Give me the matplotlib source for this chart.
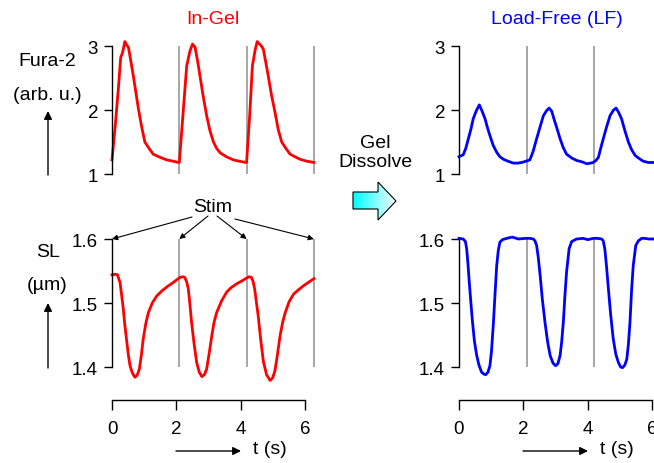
import matplotlib
matplotlib.use("Agg")
import matplotlib.pyplot as plt
import numpy as np
from matplotlib.patches import Polygon

plt.rcParams['font.family'] = ['Liberation Sans', 'DejaVu Sans']

# ---------------- data ----------------
# In-Gel Fura-2 (arb. u.)
gel_fura_t = [0.00, 0.10, 0.20, 0.27, 0.33, 0.40, 0.45, 0.51, 0.58, 0.66, 0.74, 0.82, 0.92, 1.02, 1.15,
              1.28, 1.45, 1.70, 1.90, 2.06, 2.09,
              2.20, 2.32, 2.42, 2.50, 2.58, 2.66, 2.73, 2.83, 2.94, 3.04, 3.15, 3.25, 3.36, 3.55, 3.77, 3.95, 4.16, 4.18,
              4.28, 4.36, 4.45, 4.51, 4.58, 4.64, 4.70, 4.77, 4.85, 4.95, 5.06, 5.16, 5.27, 5.40, 5.53, 5.68,
              5.84, 6.05, 6.27]
gel_fura_v = [1.22, 1.75, 2.35, 2.82, 2.90, 3.07, 3.02, 2.98, 2.78, 2.54, 2.28, 2.02, 1.74, 1.50, 1.40,
              1.31, 1.27, 1.22, 1.20, 1.18, 1.18,
              1.90, 2.69, 2.92, 3.03, 2.98, 2.76, 2.54, 2.22, 1.91, 1.68, 1.50, 1.40, 1.33, 1.27, 1.22, 1.20, 1.18, 1.18,
              1.95, 2.69, 2.95, 3.07, 3.03, 3.00, 2.95, 2.76, 2.54, 2.24, 1.97, 1.70, 1.50, 1.40, 1.31, 1.27,
              1.23, 1.20, 1.18]

# In-Gel sarcomere length (um)
gel_sl_t = [0.00, 0.10, 0.17, 0.25, 0.30, 0.35, 0.40, 0.46, 0.51, 0.56, 0.63, 0.71, 0.78, 0.85, 0.91, 0.97,
            1.05, 1.13, 1.25, 1.39, 1.55, 1.70, 1.90, 2.11,
            2.20, 2.26, 2.32, 2.37, 2.42, 2.47, 2.55, 2.63, 2.71, 2.79, 2.87, 2.94, 3.02, 3.10, 3.17, 3.25,
            3.40, 3.56, 3.70, 3.87, 4.05, 4.18,
            4.26, 4.33, 4.38, 4.43, 4.48, 4.54, 4.62, 4.70, 4.80, 4.91, 4.99, 5.06, 5.14, 5.22, 5.30, 5.38,
            5.50, 5.64, 5.80, 5.95, 6.12, 6.27]
gel_sl_v = [1.544, 1.545, 1.544, 1.532, 1.512, 1.491, 1.465, 1.439, 1.418, 1.402, 1.391, 1.384, 1.387, 1.397, 1.418, 1.444,
            1.468, 1.485, 1.500, 1.511, 1.519, 1.525, 1.532, 1.540,
            1.541, 1.540, 1.533, 1.522, 1.498, 1.470, 1.436, 1.407, 1.392, 1.385, 1.388, 1.397, 1.422, 1.449, 1.470, 1.485,
            1.503, 1.517, 1.524, 1.530, 1.535, 1.539,
            1.541, 1.540, 1.534, 1.522, 1.503, 1.480, 1.442, 1.409, 1.388, 1.379, 1.383, 1.394, 1.420, 1.449, 1.470, 1.485,
            1.502, 1.514, 1.521, 1.527, 1.533, 1.538]

# Load-Free Fura-2 (arb. u.)
lf_fura_t = [0.00, 0.13, 0.21, 0.29, 0.37, 0.44, 0.53, 0.63, 0.72, 0.81, 0.88, 0.96, 1.06, 1.17, 1.27, 1.38,
             1.52, 1.69, 1.82, 1.95, 2.08, 2.20,
             2.30, 2.41, 2.52, 2.62, 2.72, 2.80, 2.88, 2.95, 3.05, 3.14, 3.24, 3.34, 3.50, 3.66, 3.82, 3.97, 4.08, 4.17,
             4.25, 4.33, 4.40, 4.48, 4.58, 4.69, 4.80, 4.88, 4.96, 5.05, 5.15, 5.26, 5.36, 5.47, 5.60, 5.72, 5.88, 6.05]
lf_fura_v = [1.27, 1.30, 1.40, 1.55, 1.70, 1.86, 1.98, 2.08, 1.98, 1.86, 1.73, 1.60, 1.45, 1.34, 1.27, 1.23,
             1.20, 1.17, 1.17, 1.18, 1.20, 1.22,
             1.35, 1.55, 1.74, 1.91, 1.99, 2.03, 1.98, 1.86, 1.70, 1.55, 1.41, 1.31, 1.25, 1.21, 1.19, 1.16, 1.17, 1.18,
             1.21, 1.26, 1.40, 1.55, 1.73, 1.91, 2.00, 2.03, 1.96, 1.86, 1.68, 1.50, 1.38, 1.29, 1.24, 1.20, 1.18, 1.18]

# Load-Free sarcomere length (um)
lf_sl_t = [0.00, 0.13, 0.20, 0.24, 0.28, 0.32, 0.37, 0.42, 0.48, 0.55, 0.62, 0.70, 0.77, 0.83, 0.90, 0.96, 1.01,
           1.07, 1.12, 1.17, 1.22, 1.27, 1.35, 1.48, 1.65, 1.85, 2.05, 2.20, 2.31,
           2.36, 2.41, 2.46, 2.52, 2.59, 2.67, 2.75, 2.83, 2.92, 3.00, 3.07, 3.14, 3.19, 3.24, 3.29, 3.34, 3.42, 3.50,
           3.65, 3.86, 4.00, 4.17, 4.30, 4.43,
           4.48, 4.53, 4.58, 4.64, 4.71, 4.79, 4.87, 4.95, 5.02, 5.08, 5.15, 5.21, 5.26, 5.31, 5.36, 5.41, 5.49, 5.57,
           5.67, 5.77, 5.90, 6.05]
lf_sl_v = [1.601, 1.600, 1.596, 1.584, 1.560, 1.532, 1.500, 1.470, 1.440, 1.418, 1.403, 1.392, 1.389, 1.388, 1.392, 1.402, 1.425,
           1.470, 1.515, 1.558, 1.582, 1.595, 1.599, 1.601, 1.603, 1.600, 1.601, 1.601, 1.600,
           1.597, 1.590, 1.572, 1.543, 1.505, 1.470, 1.440, 1.418, 1.406, 1.402, 1.405, 1.418, 1.440, 1.470, 1.512, 1.548, 1.585, 1.596,
           1.600, 1.601, 1.599, 1.601, 1.601, 1.600,
           1.597, 1.584, 1.558, 1.522, 1.482, 1.444, 1.420, 1.407, 1.400, 1.399, 1.403, 1.412, 1.435, 1.470, 1.520, 1.558, 1.590, 1.597,
           1.601, 1.601, 1.600, 1.600]

gel_stim = [2.09, 4.18, 6.27]
lf_stim = [2.10, 4.19]
time_ticks = [0, 2, 4, 6]
fura_ticks = [1, 2, 3]
sl_ticks = [1.4, 1.5, 1.6]

# ---------------- layout ----------------
W, H = 654, 464
fig = plt.figure(figsize=(W / 100, H / 100), dpi=100)


def box(x0, ytop, x1, ybot):
    return [x0 / W, (H - ybot) / H, (x1 - x0) / W, (ybot - ytop) / H]


PX_PER_S = 32.2
FURA_PX = 64.0      # px per unit
SL_PX = 640.0       # px per um
XMAX = 6.4
TICK_FS = 13.5
LBL_FS = 14
GRAY = '#a0a0a0'


def fura_axes(x0, t, v, stim, color):
    ax = fig.add_axes(box(x0, 175 - 2.15 * FURA_PX, x0 + XMAX * PX_PER_S, 175))
    ax.set_xlim(0, XMAX)
    ax.set_ylim(1, 3.15)
    for s in ['top', 'right', 'bottom']:
        ax.spines[s].set_visible(False)
    ax.spines['left'].set_bounds(1, 3)
    ax.spines['left'].set_linewidth(1.0)
    ax.set_xticks([])
    ax.set_yticks(fura_ticks)
    ax.set_yticklabels([str(v_) for v_ in fura_ticks])
    ax.tick_params(axis='y', direction='out', length=6, width=1.0, pad=4, labelsize=TICK_FS)
    ax.vlines(stim, 1, 3, color=GRAY, lw=1.3)
    ax.plot(t, v, color=color, lw=2.0, solid_joinstyle='round', clip_on=False)
    ax.patch.set_visible(False)
    return ax


def sl_axes(x0, t, v, stim, color):
    ybot = 1.348
    ytop = 1.62
    ax = fig.add_axes(box(x0, 240 - (ytop - 1.6) * SL_PX, x0 + XMAX * PX_PER_S, 240 + (1.6 - ybot) * SL_PX))
    ax.set_xlim(0, XMAX)
    ax.set_ylim(ybot, ytop)
    for s in ['top', 'right']:
        ax.spines[s].set_visible(False)
    ax.spines['left'].set_bounds(1.4, 1.6)
    ax.spines['bottom'].set_bounds(0, 6)
    ax.spines['left'].set_linewidth(1.0)
    ax.spines['bottom'].set_linewidth(1.0)
    ax.set_yticks(sl_ticks)
    ax.set_yticklabels(['1.4', '1.5', '1.6'])
    ax.set_xticks(time_ticks)
    ax.set_xticklabels([str(x) for x in time_ticks])
    ax.tick_params(axis='y', direction='out', length=6, width=1.0, pad=4, labelsize=TICK_FS)
    ax.tick_params(axis='x', direction='out', length=7, width=1.0, pad=7, labelsize=TICK_FS)
    ax.vlines(stim, 1.4, 1.6, color=GRAY, lw=1.3)
    ax.plot(t, v, color=color, lw=2.0, solid_joinstyle='round', clip_on=False)
    ax.patch.set_visible(False)
    return ax


ax1 = fura_axes(112, gel_fura_t, gel_fura_v, gel_stim, '#ff0000')
ax2 = sl_axes(112, gel_sl_t, gel_sl_v, gel_stim, '#ff0000')
ax3 = fura_axes(459, lf_fura_t, lf_fura_v, lf_stim, '#0000ff')
ax4 = sl_axes(459, lf_sl_t, lf_sl_v, lf_stim, '#0000ff')


def ftxt(x, y, s, **kw):
    fig.text(x / W, 1 - y / H, s, ha='center', va='center', fontsize=LBL_FS, **kw)


def farrow(x0, y0, x1, y1, ms=10, lw=1.0):
    fig.add_artist(matplotlib.patches.FancyArrowPatch(
        (x0 / W, 1 - y0 / H), (x1 / W, 1 - y1 / H), transform=fig.transFigure,
        arrowstyle='-|>', mutation_scale=ms, color='black', lw=lw, shrinkA=0, shrinkB=0))


ftxt(213, 20, 'In-Gel', color='#ff0000')
ftxt(557, 20, 'Load-Free (LF)', color='#0000ff')
ftxt(47, 62, 'Fura-2')
ftxt(47, 95, '(arb. u.)')
farrow(48, 176, 48, 112, ms=12)
ftxt(48, 253, 'SL')
ftxt(47, 285, '(\u00b5m)')
farrow(48, 369, 48, 304, ms=12)
ftxt(213, 208, 'Stim')
ftxt(375, 143, 'Gel')
ftxt(375, 163, 'Dissolve')

# Stim arrows to tops of stimulus lines
stim_starts = [(192, 218), (208, 217), (217, 217), (235, 220)]
for (sx, sy), st in zip(stim_starts, [0.0] + gel_stim):
    ax2.annotate('', xy=(st, 1.6), xycoords='data', xytext=(sx, H - sy), textcoords='figure pixels',
                 arrowprops=dict(arrowstyle='-|>', color='black', lw=0.8, shrinkA=0, shrinkB=0,
                                 mutation_scale=8))

# time arrows
farrow(176, 452, 241, 452, ms=12)
ftxt(270, 450, 't (s)')
farrow(523, 452, 588, 452, ms=12)
ftxt(617, 450, 't (s)')

# gradient block arrow
axa = fig.add_axes(box(345, 178, 405, 228))
axa.set_xlim(345, 405)
axa.set_ylim(228, 178)
axa.axis('off')
pts = [(353, 193), (378, 193), (378, 183), (396, 202), (378, 221), (378, 210), (353, 210)]
grad = np.linspace(0, 1, 256)
c0 = np.array([0.0, 1.0, 1.0])
c1 = np.array([0.96, 1.0, 1.0])
img = (c0[None, :] * (1 - grad[:, None]) + c1[None, :] * grad[:, None])[None, :, :]
im = axa.imshow(img, extent=(353, 396, 221, 183), aspect='auto', interpolation='bilinear')
poly = Polygon(pts, closed=True, facecolor='none', edgecolor='black', lw=0.8)
axa.add_patch(poly)
im.set_clip_path(poly)
axa.set_xlim(345, 405)
axa.set_ylim(228, 178)

fig.savefig('out.png', dpi=100)
